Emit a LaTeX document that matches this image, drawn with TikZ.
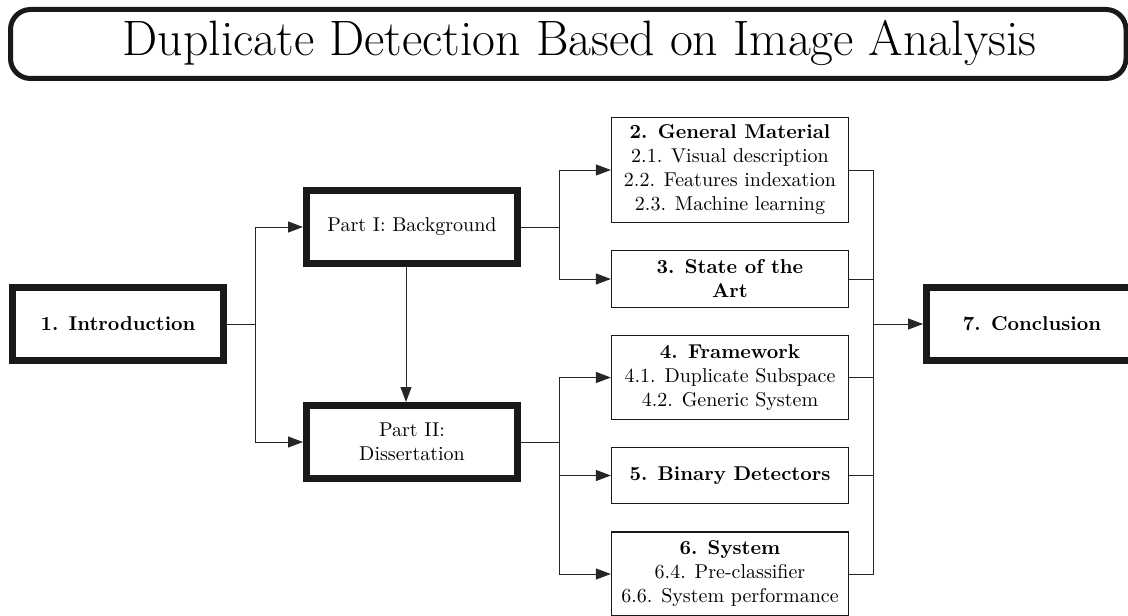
\documentclass[tikz,border=0pt]{standalone}
\usetikzlibrary{arrows.meta}
\begin{document}
\begin{tikzpicture}[x=0.5pt,y=-0.5pt,
  thickbox/.style={draw=black!90,line width=3.5pt,minimum width=105.5pt,minimum height=36.5pt,inner sep=0pt,align=center,font=\normalsize},
  thinbox/.style={draw=black!90,line width=0.65pt,minimum width=118.5pt,inner sep=0pt,align=center},
  conn/.style={draw=black!85,line width=0.5pt},
  arr/.style={conn,-{Triangle[length=7.5pt,width=5.5pt]}}]
\useasboundingbox (0,0) rectangle (1128,615);
% title
\draw[line width=2.5pt,rounded corners=10pt,draw=black!90] (10.5,9.5) rectangle (1126,78.5);
\node[font=\Huge,anchor=base,inner sep=0pt] (title) at (579.5,56) {Duplicate Detection Based on Image Analysis};
% left
\node[thickbox] (intro) at (118,324) {\textbf{1. Introduction}};
\node[thickbox] (p1) at (412,227) {Part I: Background};
\node[thickbox] (p2) at (412,442) {Part II:\\Dissertation};
% middle
\node[thinbox,minimum height=52.5pt] (gm) at (730,170) {\textbf{2. General Material}\\2.1. Visual description\\2.2. Features indexation\\2.3. Machine learning};
\node[thinbox,minimum height=28.5pt] (sa) at (730,279) {\textbf{3. State of the}\\\textbf{Art}};
\node[thinbox,minimum height=42pt] (fw) at (730,377.5) {\textbf{4. Framework}\\4.1. Duplicate Subspace\\4.2. Generic System};
\node[thinbox,minimum height=28pt] (bd) at (730,475.5) {\textbf{5. Binary Detectors}};
\node[thinbox,minimum height=42pt] (sy) at (730,574) {\textbf{6. System}\\6.4. Pre-classifier\\6.6. System performance};
% right
\node[thickbox] (cc) at (1032,324) {\textbf{7. Conclusion}};
% connectors
\coordinate (b1) at (255,324);
\coordinate (b2) at (559,227);
\coordinate (b3) at (559,442);
\coordinate (b4) at (873,324);
\draw[conn] (intro.east) -- (b1);
\draw[arr] (b1) |- (p1.west);
\draw[arr] (b1) |- (p2.west);
\draw[arr] ([xshift=-3pt]p1.south) -- ([xshift=-3pt]p2.north);
\draw[conn] (p1.east) -- (b2);
\draw[arr] (b2) |- (gm.west);
\draw[arr] (b2) |- (sa.west);
\draw[conn] (p2.east) -- (b3);
\draw[arr] (b3) |- (fw.west);
\draw[arr] (b3) |- (bd.west);
\draw[arr] (b3) |- (sy.west);
\draw[conn] (gm.east) -| (b4);
\draw[conn] (sa.east) -| (b4);
\draw[conn] (fw.east) -| (b4);
\draw[conn] (bd.east) -| (b4);
\draw[conn] (sy.east) -| (b4);
\draw[arr] (b4) -- (cc.west);
\end{tikzpicture}
\end{document}
